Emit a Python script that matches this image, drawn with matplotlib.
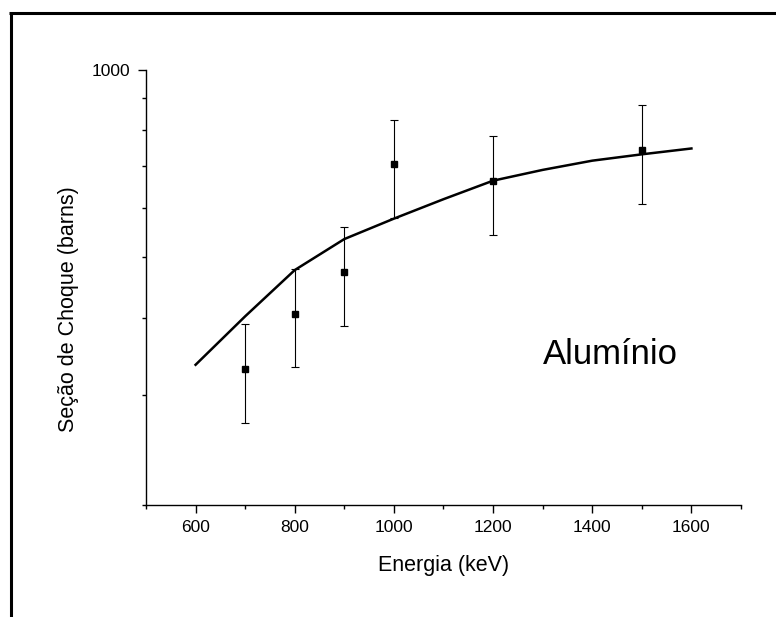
import matplotlib
matplotlib.use("Agg")
import matplotlib.pyplot as plt
from matplotlib.lines import Line2D
from matplotlib.ticker import FixedLocator, NullFormatter, MultipleLocator

# Measured cross sections (barns) with symmetric uncertainties
energy_exp = [700, 800, 900, 1000, 1200, 1500]
sigma_exp = [331, 406, 474, 705, 664, 744]
sigma_err = [60, 73, 86, 126, 120, 135]

# Theoretical curve
energy_th = [600, 700, 800, 900, 1000, 1100, 1200, 1300, 1400, 1500, 1600]
sigma_th = [336, 402, 477, 535, 577, 620, 664, 691, 715, 732, 748]

y_major = [1000]
y_minor = [200, 300, 400, 500, 600, 700, 800, 900]
x_major = [600, 800, 1000, 1200, 1400, 1600]

plt.rcParams['font.family'] = ['Liberation Sans', 'DejaVu Sans']

W, H = 776, 617
fig = plt.figure(figsize=(W / 100, H / 100), dpi=100)
ax = fig.add_axes([146 / W, (H - 505) / H, 595 / W, 435 / H])

ax.plot(energy_th, sigma_th, color='black', lw=1.8, zorder=2)
ax.errorbar(energy_exp, sigma_exp, yerr=sigma_err, fmt='s', color='black',
            ms=4.8, ecolor='black', elinewidth=0.8, capsize=3.2, capthick=0.8,
            zorder=3)

ax.set_yscale('log')
ax.set_ylim(200, 1000)
ax.set_xlim(500, 1700)

ax.yaxis.set_major_locator(FixedLocator(y_major))
ax.yaxis.set_minor_locator(FixedLocator(y_minor))
ax.yaxis.set_major_formatter(plt.FuncFormatter(lambda v, p: f"{int(v)}"))
ax.yaxis.set_minor_formatter(NullFormatter())

ax.xaxis.set_major_locator(FixedLocator(x_major))
ax.xaxis.set_minor_locator(MultipleLocator(100))

for s in ['top', 'right']:
    ax.spines[s].set_visible(False)
for s in ['left', 'bottom']:
    ax.spines[s].set_linewidth(1.0)

ax.tick_params(which='major', direction='out', length=5.5, width=1.0,
               labelsize=12.5)
ax.tick_params(axis='x', which='major', pad=5)
ax.tick_params(axis='y', which='major', pad=6)
ax.tick_params(which='minor', direction='out', length=3, width=1.0)

ax.set_xlabel('Energia (keV)', fontsize=15.5)
ax.xaxis.set_label_coords(0.5, -0.115)
ax.set_ylabel('Seção de Choque (barns)', fontsize=15.5, va='center')
ax.yaxis.set_label_coords(-0.131, 0.45)

ax.text(0.78, 0.345, 'Alumínio', transform=ax.transAxes, fontsize=25,
        ha='center', va='center')

# Outer frame (top and left edges)
lw = 2.2
fig.add_artist(Line2D([9 / W, 1.0], [1 - 12.5 / H, 1 - 12.5 / H],
                      transform=fig.transFigure, color='black', lw=lw,
                      solid_capstyle='butt'))
fig.add_artist(Line2D([10.5 / W, 10.5 / W], [0.0, 1 - 11.5 / H],
                      transform=fig.transFigure, color='black', lw=lw,
                      solid_capstyle='butt'))

fig.savefig('out.png', dpi=100, facecolor='white')
